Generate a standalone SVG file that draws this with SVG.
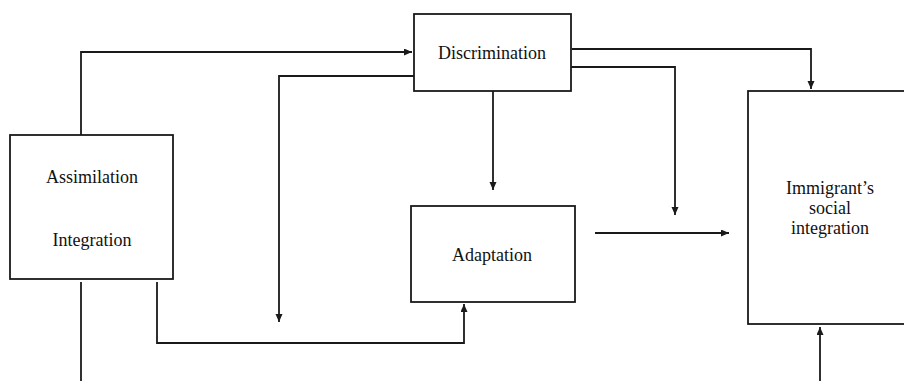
<svg xmlns="http://www.w3.org/2000/svg" width="904" height="381" viewBox="0 0 904 381">
<style>
.box{fill:#fff;stroke:#1a1a1a;stroke-width:1.8}
.ln{fill:none;stroke:#1a1a1a;stroke-width:1.8}
.arr{marker-end:url(#ah)}
text{font-family:"Liberation Serif","Times New Roman",serif;font-size:18px;fill:#111;text-anchor:middle}
</style>
<defs>
<marker id="ah" markerUnits="userSpaceOnUse" markerWidth="9" markerHeight="8" refX="8" refY="3.5" orient="auto">
<path d="M0,0 L8,3.5 L0,7 z" fill="#1a1a1a"/>
</marker>
</defs>
<rect width="904" height="381" fill="#fff"/>
<g id="connectors">
<path class="ln arr" d="M81,135 V52 H412"/>
<path class="ln arr" d="M414,76 H279 V322"/>
<path class="ln arr" d="M493,91 V190"/>
<path class="ln" d="M81,282 V381"/>
<path class="ln arr" d="M157,282 V343 H464 V304"/>
<path class="ln arr" d="M572,49 H811 V89"/>
<path class="ln arr" d="M571,67 H675 V215"/>
<path class="ln arr" d="M595,233 H729"/>
<path class="ln arr" d="M820,381 V327"/>
</g>
<g id="assimilation">
<rect class="box" x="10" y="135" width="163" height="144"/>
<text x="92" y="183">Assimilation</text>
<text x="92" y="246">Integration</text>
</g>
<g id="discrimination">
<rect class="box" x="414" y="14" width="157" height="77"/>
<text x="492" y="59">Discrimination</text>
</g>
<g id="adaptation">
<rect class="box" x="411" y="206" width="164" height="96"/>
<text x="492" y="261">Adaptation</text>
</g>
<g id="immigrant">
<rect class="box" x="748" y="91" width="170" height="233"/>
<text x="830" y="194">Immigrant’s</text>
<text x="830" y="214">social</text>
<text x="830" y="234">integration</text>
</g>
</svg>
